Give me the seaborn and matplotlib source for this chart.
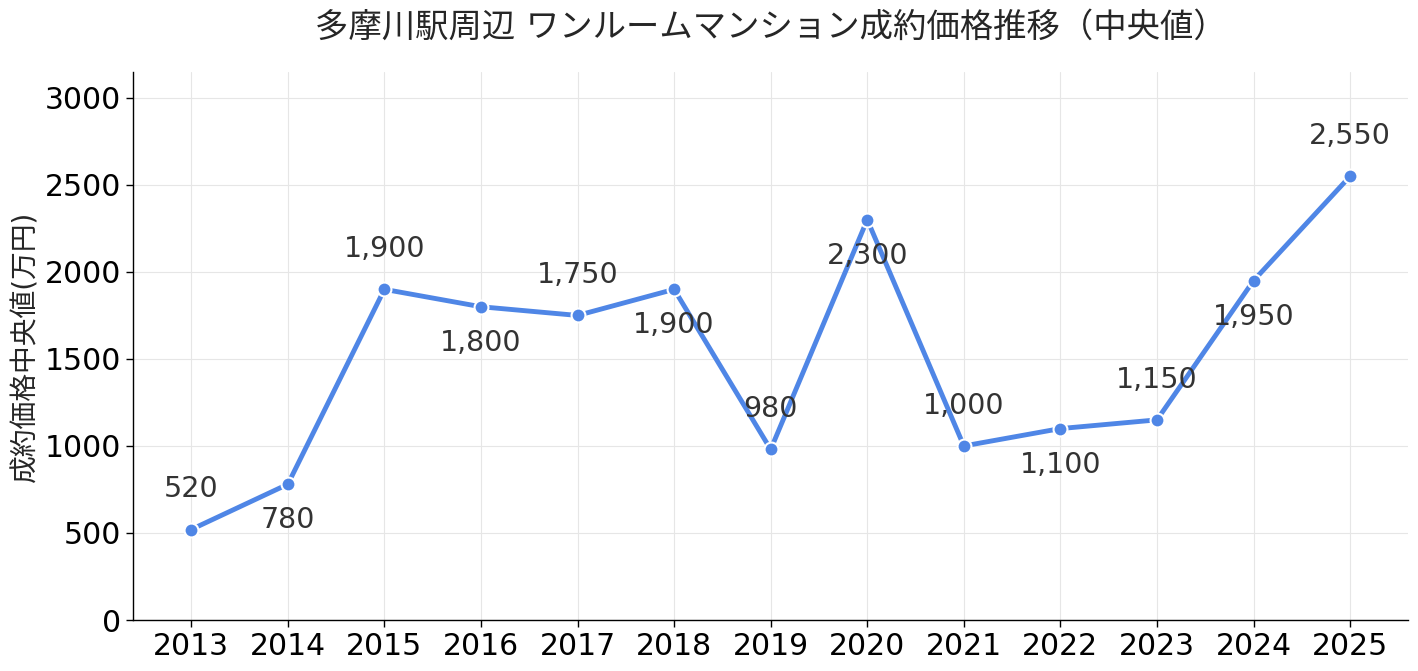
import matplotlib
matplotlib.use("Agg")
import matplotlib.pyplot as plt
import seaborn as sns
import pandas as pd

# データ（成約価格の中央値, 万円）
years = [2013, 2014, 2015, 2016, 2017, 2018, 2019, 2020, 2021, 2022, 2023, 2024, 2025]
prices = [520, 780, 1900, 1800, 1750, 1900, 980, 2300, 1000, 1100, 1150, 1950, 2550]

title = "多摩川駅周辺 ワンルームマンション成約価格推移（中央値）"
ylabel = "成約価格中央値(万円)"

sns.set_theme(style="white")
plt.rcParams["font.family"] = ["DejaVu Sans", "Noto Sans CJK JP"]

df = pd.DataFrame({"year": years, "price": prices})

fig, ax = plt.subplots(figsize=(14.18, 6.71), dpi=100)
sns.lineplot(data=df, x="year", y="price", ax=ax, color="#4f86e6",
             linewidth=3.5, marker="o", markersize=10,
             markeredgecolor="white", markeredgewidth=1.5)

# 値ラベル（交互に上下）
for i, (x, y) in enumerate(zip(years, prices)):
    dy = 29 if i % 2 == 0 else -26
    ax.annotate(f"{y:,}", (x, y), xytext=(0, dy), textcoords="offset points",
                ha="center", va="center", fontsize=20.5, color="#333333")

ax.set_ylim(0, 3150)
ax.set_xticks(years)
ax.set_xticklabels([str(y) for y in years])
ax.tick_params(axis="both", labelsize=21.5, length=5, width=1, colors="black",
               bottom=True, left=True)
ax.grid(True, color="#e6e6e6", linewidth=0.8)
ax.set_xlabel("")
ax.set_ylabel(ylabel, fontsize=20)
ax.set_title(title, fontsize=24, pad=25)
sns.despine(ax=ax)
for s in ["left", "bottom"]:
    ax.spines[s].set_color("black")
    ax.spines[s].set_linewidth(1)

fig.subplots_adjust(left=0.094, right=0.993, top=0.893, bottom=0.076)
fig.savefig("out.png", dpi=100)
